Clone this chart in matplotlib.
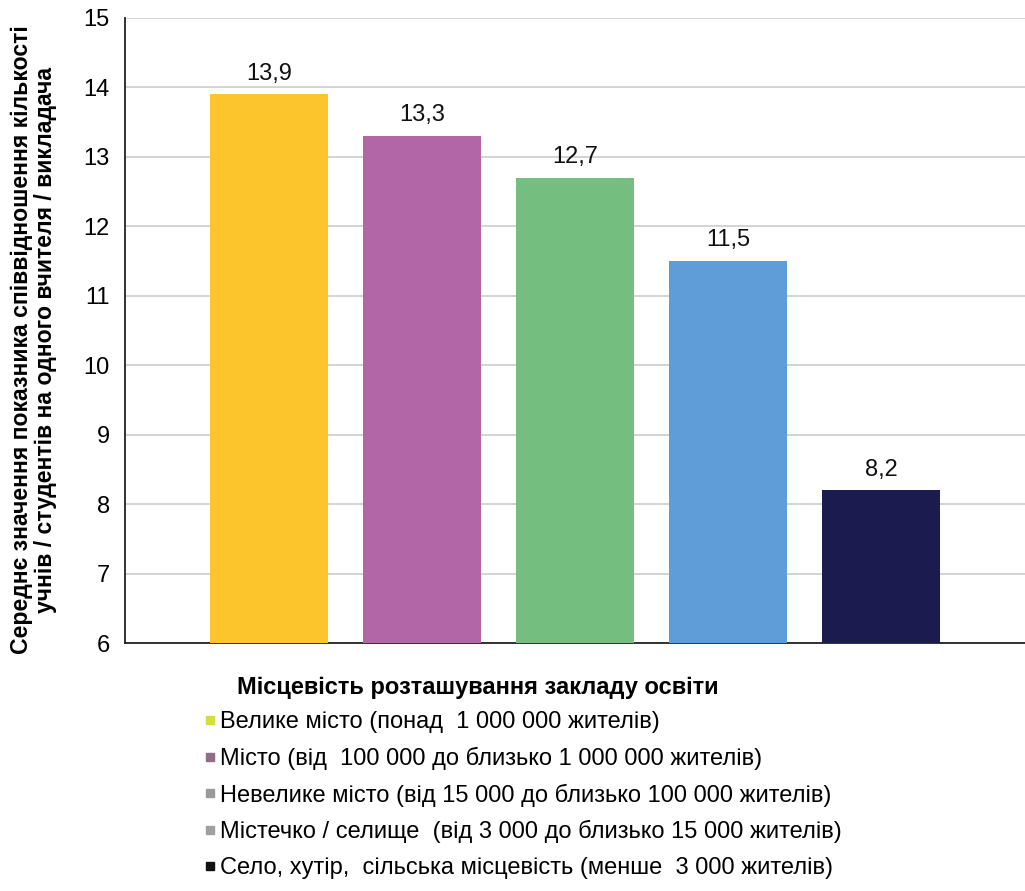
import matplotlib.pyplot as plt
from matplotlib.lines import Line2D

plt.rcParams['font.family'] = ['Liberation Sans', 'DejaVu Sans']

# ---------- Data ----------
categories = [
    "Велике місто (понад  1 000 000 жителів)",
    "Місто (від  100 000 до близько 1 000 000 жителів)",
    "Невелике місто (від 15 000 до близько 100 000 жителів)",
    "Містечко / селище  (від 3 000 до близько 15 000 жителів)",
    "Село, хутір,  сільська місцевість (менше  3 000 жителів)",
]
values = [13.9, 13.3, 12.7, 11.5, 8.2]
bar_colors = ["#FCC52B", "#B266A8", "#74BE80", "#5E9DD7", "#1C1B4F"]
legend_colors = ["#D3DE3A", "#8E6F86", "#9A9A9A", "#A0A0A0", "#111111"]
yticks = [6, 7, 8, 9, 10, 11, 12, 13, 14, 15]

ylabel = ("Середнє значення показника співвідношення кількості\n"
          "учнів / студентів на одного вчителя / викладача")
legend_title = "Місцевість розташування закладу освіти"

# ---------- Plot ----------
fig = plt.figure(figsize=(10.25, 8.91), dpi=100)
ax = fig.add_axes([0.122, 0.278, 0.878, 0.702])

x = list(range(len(values)))
ax.bar(x, values, width=0.77, color=bar_colors, zorder=3)
for xi, v in zip(x, values):
    ax.annotate(f"{v:.1f}".replace(".", ","), (xi, v), xytext=(0, 7),
                textcoords="offset points", ha="center", va="bottom",
                fontsize=17, color="#111111")

ax.set_ylim(6, 15)
ax.set_xlim(-0.94, 4.94)
ax.set_yticks(yticks)
ax.set_xticks([])
ax.tick_params(axis="y", labelsize=17, length=0, pad=11)
ax.grid(axis="y", color="#cccccc", linewidth=1.2, zorder=0)
for s in ["top", "right"]:
    ax.spines[s].set_visible(False)
ax.spines["left"].set_color("#222222")
ax.spines["bottom"].set_color("#222222")
ax.spines["left"].set_linewidth(1.3)
ax.spines["bottom"].set_linewidth(1.3)

ax.set_ylabel(ylabel, fontsize=16.6, fontweight="bold", linespacing=1.05)
ax.yaxis.set_label_coords(-0.076, 0.485)

# ---------- Legend ----------
fig.text(0.231, 0.228, legend_title, fontsize=17, fontweight="bold",
         ha="left", va="center")
handles = [Line2D([], [], marker="s", linestyle="none", markersize=6,
                  color=c) for c in legend_colors]
fig.legend(handles, categories, loc="upper left",
           bbox_to_anchor=(0.2, 0.2015), frameon=False, fontsize=17,
           handlelength=0.4, handletextpad=0.25, labelspacing=0.57,
           borderaxespad=0, borderpad=0)

fig.savefig("out.png", dpi=100)
